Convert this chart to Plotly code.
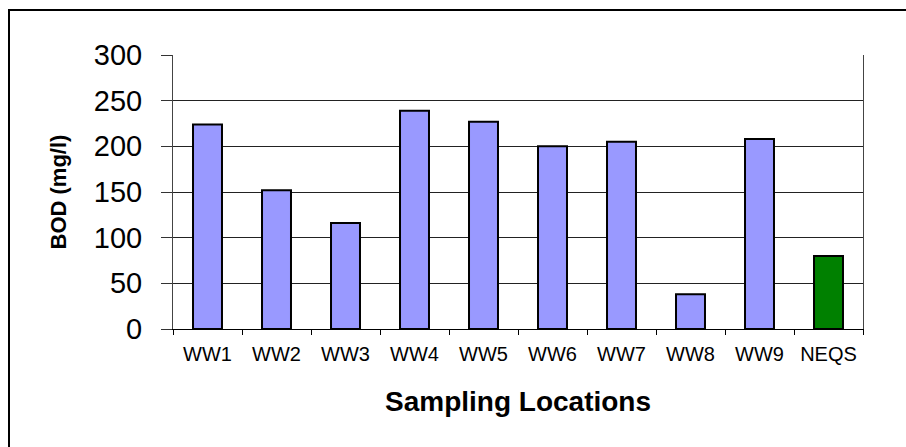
import plotly.graph_objects as go

# BOD measured at each sampling location, with the NEQS limit as the last bar
locations = ["WW1", "WW2", "WW3", "WW4", "WW5", "WW6", "WW7", "WW8", "WW9", "NEQS"]
bod_mg_l = [224, 152, 116, 239, 227, 200, 205, 38, 208, 80]
bar_colors = ["#9999FF"] * 9 + ["#008000"]
y_ticks = [0, 50, 100, 150, 200, 250, 300]

W, H = 906, 447
ml, mr, mt, mb = 173, 43, 55, 118
pw, ph = W - ml - mr, H - mt - mb

fig = go.Figure(
    go.Bar(
        x=locations,
        y=bod_mg_l,
        marker=dict(color=bar_colors, line=dict(color="#000000", width=2)),
    )
)

font_family = "Liberation Sans, Arial, sans-serif"

fig.update_layout(
    width=W,
    height=H,
    margin=dict(l=ml, r=mr, t=mt, b=mb, pad=0),
    paper_bgcolor="white",
    plot_bgcolor="white",
    bargap=0.58,
    showlegend=False,
    font=dict(family=font_family, color="#000000"),
    xaxis=dict(
        tickson="boundaries",
        ticks="outside",
        ticklen=5,
        tickwidth=1,
        tickcolor="#000000",
        showline=True,
        linecolor="#000000",
        linewidth=1,
        showgrid=False,
        tickfont=dict(size=20),
        ticklabelstandoff=7,
        title=dict(text="<b>Sampling Locations</b>", font=dict(size=28), standoff=27),
    ),
    yaxis=dict(
        range=[0, 300],
        tickvals=y_ticks,
        ticks="outside",
        ticklen=11,
        tickwidth=1,
        tickcolor="#333333",
        showline=True,
        linecolor="#444444",
        linewidth=1,
        mirror=True,
        showgrid=True,
        gridcolor="#222222",
        gridwidth=1,
        zeroline=False,
        tickfont=dict(size=29),
        ticklabelstandoff=13,
        title=dict(text="<b>BOD (mg/l)</b>", font=dict(size=22), standoff=21),
    ),
)

# Outer chart frame, running off the right and bottom edges of the page
fig.add_shape(
    type="rect",
    xref="paper",
    yref="paper",
    x0=(9 - ml) / pw,
    x1=(W + 20 - ml) / pw,
    y0=-(H + 20 - mt - ph) / ph,
    y1=(mt + ph - 10) / ph,
    line=dict(color="#000000", width=2),
    layer="below",
)

fig.write_html("out.html")
